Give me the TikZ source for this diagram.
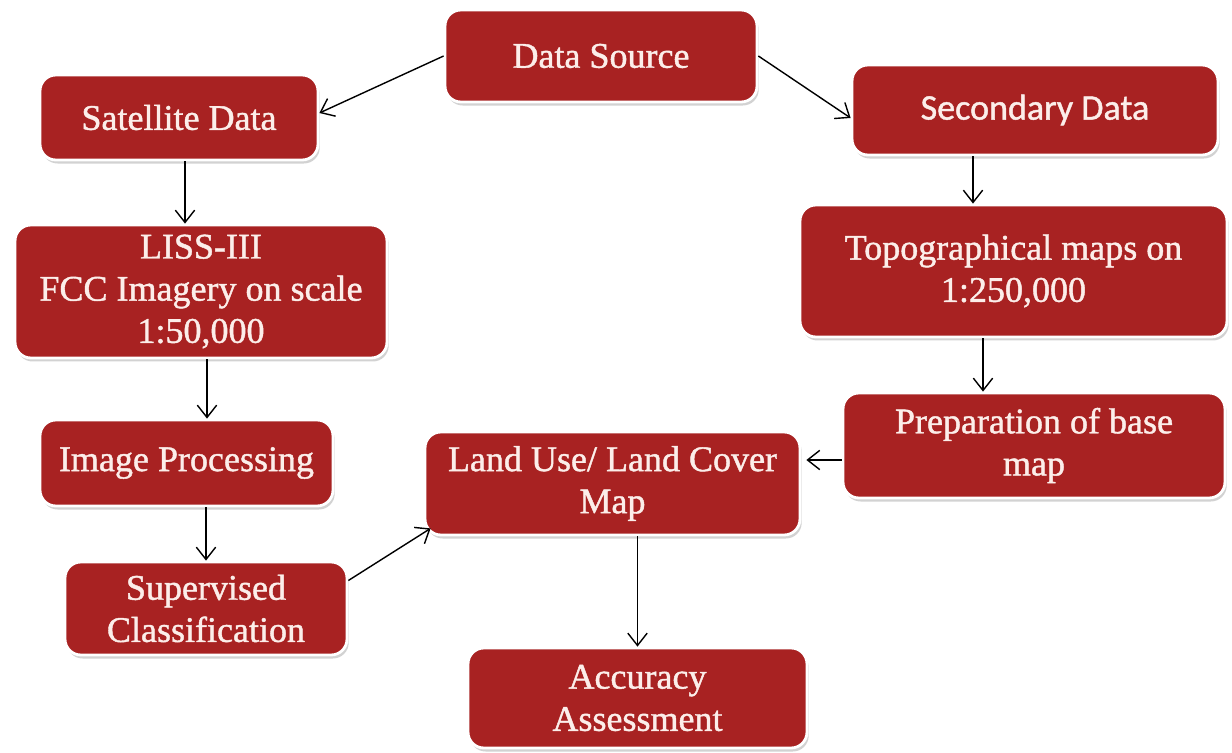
\documentclass[tikz,border=0pt]{standalone}
\usepackage{fontspec}
\setmainfont{Liberation Serif}
\newfontfamily\boxfont{Liberation Serif}[FakeBold=1.2]
\newfontfamily\calibri{Carlito}[FakeBold=1.2]
\usepackage{xcolor}
\usetikzlibrary{arrows.meta,shadows}
\definecolor{boxred}{HTML}{A82222}
\definecolor{boxtext}{HTML}{FCEEEA}
\tikzstyle{block} = [rectangle, draw=white, line width=1.6pt, fill=boxred, text=boxtext, text centered, align=center, rounded corners=9pt, inner sep=2pt, font=\boxfont\fontsize{20.5}{24}\selectfont, drop shadow={shadow xshift=1pt, shadow yshift=-2pt, fill=black!35}]
\tikzstyle{line} = [draw, line width=0.8pt, -{Straight Barb[length=7pt,width=11pt,line width=0.8pt]}]

\begin{document}
\begin{tikzpicture}[x=0.02cm, y=-0.02cm]
\useasboundingbox[fill=white] (0,0) rectangle (1232,753);
% left column
\node [block, minimum width=6.24cm, minimum height=1.84cm] (source) at (601,56) {Data Source};
\node [block, minimum width=5.56cm, minimum height=1.7cm] (satellite) at (179,117.5) {Satellite Data};
\node [block, minimum width=7.44cm, minimum height=2.66cm] (liss) at (201,291.5) {LISS-III\\FCC Imagery on scale\\1:50,000};
\node [block, minimum width=5.86cm, minimum height=1.72cm] (imgproc) at (186.5,463) {Image Processing};
\node [block, minimum width=5.64cm, minimum height=1.86cm] (classif) at (206,608.5) {Supervised\\Classification};
% right column
\node [block, minimum width=7.32cm, minimum height=1.8cm, font=\calibri\fontsize{20.5}{24}\selectfont] (secondary) at (1035,110) {Secondary Data};
\node [block, minimum width=8.54cm, minimum height=2.64cm] (topo) at (1013.5,271) {Topographical maps on\\1:250,000};
\node [block, minimum width=7.64cm, minimum height=2.1cm] (basemap) at (1034,445.5) {Preparation of base\\map};
% middle
\node [block, minimum width=7.5cm, minimum height=2.06cm] (lulc) at (612.5,483.5) {Land Use/ Land Cover\\Map};
\node [block, minimum width=6.78cm, minimum height=2cm] (accuracy) at (637.5,698) {Accuracy\\Assessment};
\path [line] (source.west) -- ([yshift=0.09cm]satellite.east);
\path [line] (source.east) -- ([yshift=-0.16cm]secondary.west);
\path [line] ([xshift=0.12cm]satellite.south) -- ([xshift=0.12cm]satellite.south |- liss.north);
\path [line] ([xshift=0.12cm]liss.south) -- ([xshift=0.12cm]liss.south |- imgproc.north);
\path [line] (classif.north |- imgproc.south) -- (classif.north);
\path [line] ([xshift=-1.24cm]secondary.south) -- ([xshift=-1.24cm]secondary.south |- topo.north);
\path [line] ([xshift=-0.61cm]topo.south) -- ([xshift=-0.61cm]topo.south |- basemap.north);
\path [line, shorten >=0.1cm] ([yshift=-0.29cm]basemap.west) -- ([yshift=-0.29cm]basemap.west -| lulc.east);
\path [line] ([yshift=0.56cm]classif.east) -- ([shift={(0.14cm,0.16cm)}]lulc.south west);
\path [line] (accuracy.north |- lulc.south) -- (accuracy.north);
\end{tikzpicture}
\end{document}
